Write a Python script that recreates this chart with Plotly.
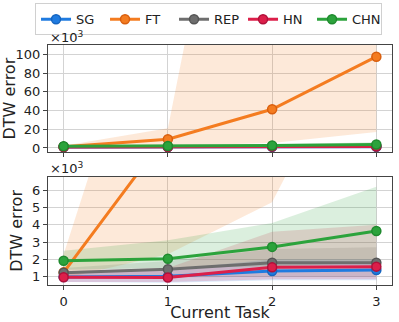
import plotly.graph_objects as go
from plotly.subplots import make_subplots

tasks = [0, 1, 2, 3]
names = ["SG", "FT", "REP", "HN", "CHN"]
colors = ["#1f7be0", "#f47c20", "#6e6e6e", "#dc1f4a", "#2ca33c"]
edge_colors = ["#1565c0", "#d95f0e", "#555555", "#b0103a", "#1f8a2e"]

# mean DTW error (x10^3)
sg = [0.98, 1.02, 1.33, 1.39]
ft = [1.25, 9.3, 41.3, 97.5]
rep = [1.23, 1.43, 1.81, 1.80]
hn = [0.97, 0.95, 1.54, 1.58]
chn = [1.92, 2.04, 2.72, 3.64]

# band bounds (x10^3)
sg_lo = [0.70, 0.65, 0.80, 0.80]
sg_hi = [1.30, 1.40, 2.00, 2.00]
ft_lo = [0.90, 2.30, 5.30, 17.0]
ft_hi = [2.30, 21.0, 580.0, 700.0]
rep_lo = [0.90, 0.95, 1.00, 1.00]
rep_hi = [1.50, 1.90, 2.60, 2.70]
hn_lo = [0.70, 0.70, 0.85, 0.85]
hn_hi = [1.30, 1.50, 3.60, 4.00]
chn_lo = [1.40, 1.50, 1.60, 1.80]
chn_hi = [2.50, 3.10, 4.10, 6.20]

means = [sg, ft, rep, hn, chn]
lows = [sg_lo, ft_lo, rep_lo, hn_lo, chn_lo]
highs = [sg_hi, ft_hi, rep_hi, hn_hi, chn_hi]


def rgba(hex_color, a):
    h = hex_color.lstrip("#")
    r, g, b = int(h[0:2], 16), int(h[2:4], 16), int(h[4:6], 16)
    return f"rgba({r},{g},{b},{a})"


fig = make_subplots(rows=2, cols=1, vertical_spacing=0.1)

for row in (1, 2):
    for i, name in enumerate(names):
        fig.add_trace(go.Scatter(
            x=tasks + tasks[::-1],
            y=highs[i] + lows[i][::-1],
            fill="toself",
            fillcolor=rgba(colors[i], 0.17),
            line=dict(width=0),
            mode="lines",
            hoverinfo="skip",
            showlegend=False,
        ), row=row, col=1)
    for i, name in enumerate(names):
        fig.add_trace(go.Scatter(
            x=tasks, y=means[i], name=name,
            mode="lines+markers",
            line=dict(color=colors[i], width=3),
            marker=dict(size=9, color=colors[i],
                        line=dict(color=edge_colors[i], width=1.5)),
            showlegend=(row == 1),
        ), row=row, col=1)

axis_style = dict(
    showline=True, mirror=True, linecolor="#444", linewidth=1,
    gridcolor="#d3d3d3", ticks="outside", ticklen=4, tickcolor="#444",
    zeroline=False, automargin=False,
)
fig.update_xaxes(range=[-0.15, 3.15], tickvals=tasks, **axis_style)
fig.update_xaxes(showticklabels=False, row=1, col=1)
fig.update_xaxes(title_text="Current Task", title_standoff=0, row=2, col=1)
fig.update_yaxes(**axis_style)
fig.update_yaxes(range=[-4.6, 110], tickvals=[0, 20, 40, 60, 80, 100],
                 domain=[0.553, 1], title_text="DTW error", title_standoff=5,
                 row=1, col=1)
fig.update_yaxes(range=[0.52, 6.77], tickvals=[1, 2, 3, 4, 5, 6],
                 domain=[0, 0.451], title_text="DTW error", title_standoff=5,
                 row=2, col=1)

for y in (1.035, 0.486):
    fig.add_annotation(text="×10<sup>3</sup>", x=0, y=y, xref="paper", yref="paper",
                       xanchor="left", yanchor="middle", showarrow=False,
                       font=dict(size=13))

fig.update_layout(
    width=399, height=322,
    margin=dict(l=48, r=7, t=45, b=37, autoexpand=False),
    paper_bgcolor="white", plot_bgcolor="white",
    font=dict(family="DejaVu Sans", size=13, color="#222"),
    legend=dict(orientation="h", xref="container", yref="container",
                x=0.5226, xanchor="center", y=0.99, yanchor="top",
                bordercolor="#d0d0d0", borderwidth=1, font=dict(size=13),
                itemwidth=30, entrywidth=24),
)

fig.write_html("out.html", config={"displayModeBar": False},
               post_script="document.body.style.margin='0';")
